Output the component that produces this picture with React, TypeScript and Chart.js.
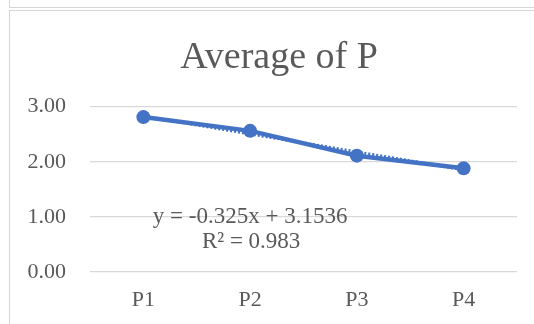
import React, { useEffect, useRef } from "react";
import { Chart, registerables } from "chart.js";

Chart.register(...registerables);

// Categories and averaged values
const categories = ["P1", "P2", "P3", "P4"];
const averageValues = [2.81, 2.56, 2.11, 1.88];

// Linear trendline coefficients (x = 1..n) and fit quality
const trendSlope = -0.325;
const trendIntercept = 3.1536;
const trendR2 = 0.983;

const yTickMin = 0;
const yTickMax = 3;
const yTickStep = 1;

const FONT = "'Liberation Serif', 'Times New Roman', serif";
const TEXT = "#595959";
const GRID = "#d9d9d9";
const BLUE = "#4472C4";

const trendValues = categories.map((_, i) => trendSlope * (i + 1) + trendIntercept);

const equationText = `y = ${trendSlope}x + ${trendIntercept}`;
const r2Text = `R² = ${trendR2}`;

// Centres the title over the frame rather than over the canvas
const titleOffsetPlugin = {
  id: "titleOffset",
  afterLayout(chart: any) {
    const tb = chart.titleBlock;
    if (tb) tb.left = tb.left + 41;
  },
};

// Draws the trendline equation anchored at the second category, y = 1.00
const equationPlugin = {
  id: "trendEquation",
  afterDatasetsDraw(chart: any) {
    const { ctx, scales } = chart;
    const x = scales.x.getPixelForValue(1);
    const y = scales.y.getPixelForValue(1);
    ctx.save();
    ctx.font = `23px ${FONT}`;
    ctx.fillStyle = TEXT;
    ctx.textAlign = "center";
    ctx.textBaseline = "alphabetic";
    ctx.fillText(equationText, x, y + 6);
    ctx.fillText(r2Text, x + 1, y + 31);
    ctx.restore();
  },
};

export default function App() {
  const canvasRef = useRef<HTMLCanvasElement | null>(null);

  useEffect(() => {
    document.body.style.margin = "0";
    const canvas = canvasRef.current;
    if (!canvas) return;
    const chart = new Chart(canvas, {
      type: "line",
      data: {
        labels: categories,
        datasets: [
          {
            label: "Average of P",
            data: averageValues,
            borderColor: BLUE,
            backgroundColor: BLUE,
            borderWidth: 4.5,
            pointRadius: 7,
            pointBorderWidth: 0,
            pointBackgroundColor: BLUE,
            tension: 0,
            order: 1,
          },
          {
            label: "Linear (Average of P)",
            data: trendValues,
            borderColor: BLUE,
            borderWidth: 3,
            borderDash: [2, 2],
            pointRadius: 0,
            tension: 0,
            order: 2,
          },
        ],
      },
      options: {
        responsive: false,
        animation: false,
        layout: { padding: { left: 0, right: 17, top: 15, bottom: 0 } },
        plugins: {
          legend: { display: false },
          tooltip: { enabled: false },
          title: {
            display: true,
            text: "Average of P",
            color: TEXT,
            font: { family: FONT, size: 38, weight: "normal", lineHeight: 1.2 },
            padding: { top: 20, bottom: 26 },
          },
        },
        scales: {
          x: {
            offset: true,
            grid: { display: false, drawTicks: false },
            border: { display: false },
            ticks: {
              color: TEXT,
              font: { family: FONT, size: 22 },
              padding: 15,
            },
            afterFit(scale: any) {
              scale.height = 52;
            },
          },
          y: {
            min: yTickMin,
            max: yTickMax,
            grid: { color: GRID, lineWidth: 1.3, drawTicks: false },
            border: { display: false },
            ticks: {
              stepSize: yTickStep,
              color: TEXT,
              font: { family: FONT, size: 22 },
              padding: 24,
              callback: (v: any) => Number(v).toFixed(2),
            },
            afterFit(scale: any) {
              scale.width = 90;
            },
          },
        },
      },
      plugins: [titleOffsetPlugin, equationPlugin],
    });
    return () => chart.destroy();
  }, []);

  return (
    <div style={{ position: "relative", width: 534, height: 324, overflow: "hidden", background: "#fff" }}>
      <div
        style={{
          position: "absolute",
          left: 9,
          top: -20,
          width: 700,
          height: 26,
          border: "1px solid #d6d6d6",
        }}
      />
      <div
        style={{
          position: "absolute",
          left: 9,
          top: 10,
          width: 700,
          height: 500,
          border: "1.3px solid #d6d6d6",
        }}
      />
      <canvas
        ref={canvasRef}
        width={534}
        height={324}
        style={{ position: "absolute", left: 0, top: 0 }}
      />
    </div>
  );
}
